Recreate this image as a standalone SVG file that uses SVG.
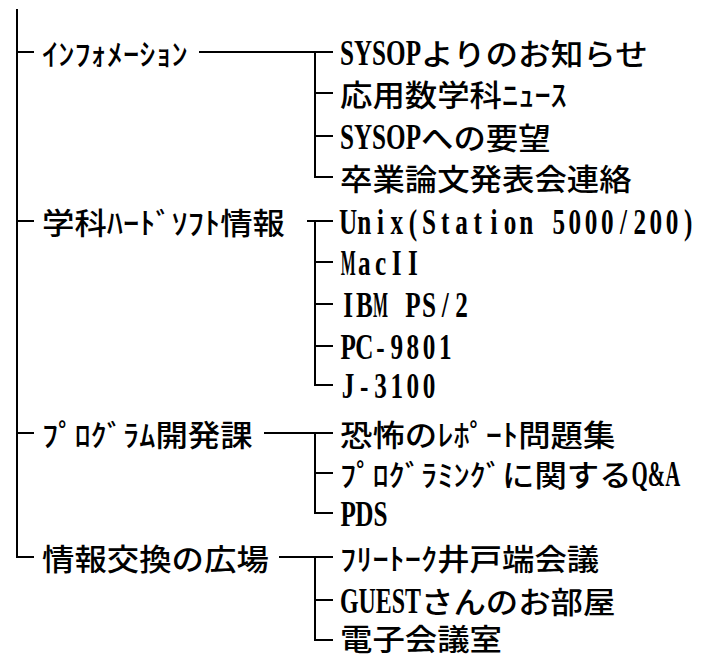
<svg xmlns="http://www.w3.org/2000/svg" width="704" height="659" viewBox="0 0 704 659">
<style>
.c{fill:none;stroke:#000;stroke-width:2;stroke-linecap:square}
text{font-family:"Noto Sans CJK JP",sans-serif;font-size:30px;fill:#000;font-weight:500}
.l{font-family:"Liberation Serif","Noto Sans CJK JP",serif;font-size:35px;font-weight:700}
.m{text-anchor:middle}
</style>
<rect width="704" height="659" fill="#fff"/>
<g id="connectors">
<path class="c" d="M17 10V557H33M17 52H33M17 221H33M17 433H33"/>
<path class="c" d="M200 52H332M315 52V177H332M315 93H332M315 136H332"/>
<path class="c" d="M308 221H332M315 221V385H332M315 262H332M315 304H332M315 346H332"/>
<path class="c" d="M265 433H332M315 433V513H332M315 473H332"/>
<path class="c" d="M280 557H332M315 557V640H332M315 600H332"/>
</g>
<g id="info"><text y="65"><tspan x="42" textLength="145.8" lengthAdjust="spacingAndGlyphs">ｲﾝﾌｫﾒｰｼｮﾝ</tspan></text></g>
<g id="hard"><text y="234"><tspan x="42" textLength="64.8" lengthAdjust="spacingAndGlyphs">学科</tspan><tspan x="106.8" textLength="113.4" lengthAdjust="spacingAndGlyphs">ﾊｰﾄﾞｿﾌﾄ</tspan><tspan x="220.2" textLength="64.8" lengthAdjust="spacingAndGlyphs">情報</tspan></text></g>
<g id="prog"><text y="446"><tspan x="42" textLength="113.4" lengthAdjust="spacingAndGlyphs">ﾌﾟﾛｸﾞﾗﾑ</tspan><tspan x="155.4" textLength="97.2" lengthAdjust="spacingAndGlyphs">開発課</tspan></text></g>
<g id="exch"><text y="570"><tspan x="42" textLength="226.8" lengthAdjust="spacingAndGlyphs">情報交換の広場</tspan></text></g>

<g id="sysop-news"><text y="65"><tspan class="l" x="340" textLength="81" lengthAdjust="spacingAndGlyphs">SYSOP</tspan><tspan x="421" textLength="226.8" lengthAdjust="spacingAndGlyphs">よりのお知らせ</tspan></text></g>
<g id="math-news"><text y="106"><tspan x="340" textLength="162" lengthAdjust="spacingAndGlyphs">応用数学科</tspan><tspan x="502" textLength="64.8" lengthAdjust="spacingAndGlyphs">ﾆｭｰｽ</tspan></text></g>
<g id="sysop-req"><text y="149"><tspan class="l" x="340" textLength="81" lengthAdjust="spacingAndGlyphs">SYSOP</tspan><tspan x="421" textLength="129.6" lengthAdjust="spacingAndGlyphs">への要望</tspan></text></g>
<g id="thesis"><text y="190"><tspan x="340" textLength="291.6" lengthAdjust="spacingAndGlyphs">卒業論文発表会連絡</tspan></text></g>

<g id="unix"><text class="l m" transform="scale(0.72,1)" y="234" x="483.5 506 528.5 551 573.5 596 618.5 641 663.5 686 708.5 731 753.5 776 798.5 821 843.5 866 888.5 911 933.5 956">Unix(Station 5000/200)</text></g>
<g id="mac"><text class="l m" transform="scale(0.72,1)" y="275"><tspan x="483.5" textLength="20.8" lengthAdjust="spacingAndGlyphs">M</tspan><tspan x="506 528.5 551 573.5">acII</tspan></text></g>
<g id="ibm"><text class="l m" transform="scale(0.72,1)" y="317"><tspan x="483.5 506">IB</tspan><tspan x="528.5" textLength="20.8" lengthAdjust="spacingAndGlyphs">M</tspan><tspan x="551 573.5 596 618.5 641"> PS/2</tspan></text></g>
<g id="pc98"><text class="l m" transform="scale(0.72,1)" y="359" x="483.5 506 528.5 551 573.5 596 618.5">PC-9801</text></g>
<g id="j3100"><text class="l m" transform="scale(0.72,1)" y="398" x="483.5 506 528.5 551 573.5 596">J-3100</text></g>

<g id="report"><text y="446"><tspan x="340" textLength="97.2" lengthAdjust="spacingAndGlyphs">恐怖の</tspan><tspan x="437.2" textLength="81" lengthAdjust="spacingAndGlyphs">ﾚﾎﾟｰﾄ</tspan><tspan x="518.2" textLength="97.2" lengthAdjust="spacingAndGlyphs">問題集</tspan></text></g>
<g id="qa"><text y="486"><tspan x="340" textLength="162" lengthAdjust="spacingAndGlyphs">ﾌﾟﾛｸﾞﾗﾐﾝｸﾞ</tspan><tspan x="502" textLength="129.6" lengthAdjust="spacingAndGlyphs">に関する</tspan><tspan class="l" x="631.6" textLength="48.6" lengthAdjust="spacingAndGlyphs">Q&amp;A</tspan></text></g>
<g id="pds"><text class="l m" transform="scale(0.72,1)" y="526" x="483.5 506 528.5">PDS</text></g>

<g id="freetalk"><text y="570"><tspan x="340" textLength="97.2" lengthAdjust="spacingAndGlyphs">ﾌﾘｰﾄｰｸ</tspan><tspan x="437.2" textLength="162" lengthAdjust="spacingAndGlyphs">井戸端会議</tspan></text></g>
<g id="guest"><text y="613"><tspan class="l" x="340" textLength="81" lengthAdjust="spacingAndGlyphs">GUEST</tspan><tspan x="421" textLength="194.4" lengthAdjust="spacingAndGlyphs">さんのお部屋</tspan></text></g>
<g id="conf"><text y="650"><tspan x="340" textLength="162" lengthAdjust="spacingAndGlyphs">電子会議室</tspan></text></g>
</svg>
